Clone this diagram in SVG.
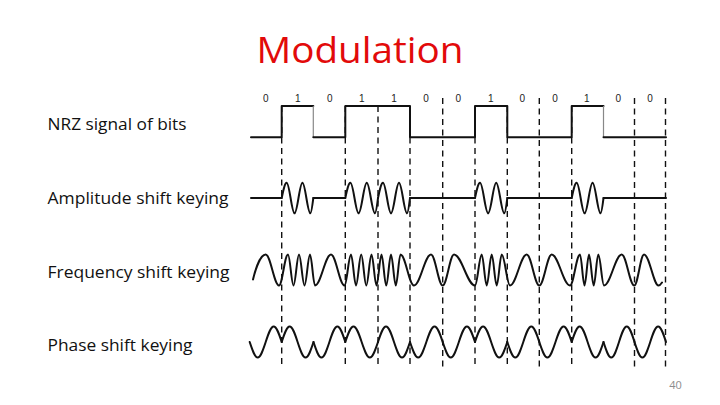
<svg xmlns="http://www.w3.org/2000/svg" xmlns:xlink="http://www.w3.org/1999/xlink" width="720" height="405" viewBox="0 0 720 405">
  <style>
    .sig { fill: none; stroke: #111; stroke-width: 2; stroke-linejoin: round; stroke-linecap: round; }
    .dash { stroke: #111; stroke-width: 1.4; stroke-dasharray: 6 4.5; fill: none; }
    .lbl { font-family: "Open Sans", "Liberation Sans", sans-serif; font-size: 17px; fill: #111; }
    .bit { font-family: "Liberation Sans", Arial, sans-serif; font-size: 10px; fill: #222; text-anchor: middle; }
  </style>
  <defs>
    <!-- ASK burst: two cycles over one bit (local width 32) -->
    <path id="ask1" class="sig" vector-effect="non-scaling-stroke" d="M0 0 C1.63 -7.84 3.19 -15.3 5 -15.3 C7.91 -15.3 10.09 15.3 13 15.3 C15.91 15.3 18.09 -15.3 21 -15.3 C23.91 -15.3 26.09 15.3 29 15.3 C30.09 15.3 31.02 7.84 32 0"/>
    <!-- PSK: one sine cycle over one bit (local width 32) -->
    <path id="psk" class="sig" vector-effect="non-scaling-stroke" d="M0 0 C2.61 -7.94 5.10 -15.5 8 -15.5 C10.90 -15.5 13.39 -7.94 16 0 C18.61 7.94 21.10 15.5 24 15.5 C26.90 15.5 29.39 7.94 32 0"/>
  </defs>

  <rect width="720" height="405" fill="#ffffff"/>

  <!-- Title -->
  <text x="256.5" y="62.5" font-family="'Open Sans', 'Liberation Sans', sans-serif" font-size="37" fill="#e20a0a" textLength="207" lengthAdjust="spacingAndGlyphs">Modulation</text>

  <!-- Row labels -->
  <text class="lbl" x="47.5" y="129.5" textLength="139" lengthAdjust="spacingAndGlyphs">NRZ signal of bits</text>
  <text class="lbl" x="47.5" y="203.5" textLength="181" lengthAdjust="spacingAndGlyphs">Amplitude shift keying</text>
  <text class="lbl" x="47.5" y="277.5" textLength="182" lengthAdjust="spacingAndGlyphs">Frequency shift keying</text>
  <text class="lbl" x="47.5" y="351" textLength="145" lengthAdjust="spacingAndGlyphs">Phase shift keying</text>

  <!-- Bit values -->
  <g id="bits">
    <text class="bit" x="265.7" y="101.5">0</text>
    <text class="bit" x="297.7" y="101.5">1</text>
    <text class="bit" x="329.7" y="101.5">0</text>
    <text class="bit" x="361.7" y="101.5">1</text>
    <text class="bit" x="394" y="101.5">1</text>
    <text class="bit" x="426" y="101.5">0</text>
    <text class="bit" x="458.3" y="101.5">0</text>
    <text class="bit" x="490.7" y="101.5">1</text>
    <text class="bit" x="522.3" y="101.5">0</text>
    <text class="bit" x="555" y="101.5">0</text>
    <text class="bit" x="586.7" y="101.5">1</text>
    <text class="bit" x="618.3" y="101.5">0</text>
    <text class="bit" x="650" y="101.5">0</text>
  </g>

  <!-- Dashed bit boundaries -->
  <g id="boundaries">
    <line class="dash" x1="281.7" y1="106" x2="281.7" y2="368"/>
    <line class="dash" x1="345.3" y1="106" x2="345.3" y2="368"/>
    <line class="dash" x1="378" y1="106" x2="378" y2="368"/>
    <line class="dash" x1="410" y1="106" x2="410" y2="368"/>
    <line class="dash" x1="442.7" y1="98" x2="442.7" y2="368"/>
    <line class="dash" x1="475" y1="106" x2="475" y2="368"/>
    <line class="dash" x1="507.3" y1="106" x2="507.3" y2="368"/>
    <line class="dash" x1="539.3" y1="98" x2="539.3" y2="368"/>
    <line class="dash" x1="571.7" y1="106" x2="571.7" y2="368"/>
    <line class="dash" x1="634.5" y1="98" x2="634.5" y2="368"/>
    <line class="dash" x1="665.5" y1="98" x2="665.5" y2="368"/>
  </g>

  <!-- NRZ -->
  <g id="nrz">
    <path class="sig" d="M251 137.3 H281.7 V106 H313.3"/>
    <path d="M313.3 106 V137.3" stroke="#888" stroke-width="1.2" fill="none"/>
    <path class="sig" d="M313.3 137.3 H345.3 V106 H410 V137.3 H475 V106 H507.3 V137.3 H571.7 V106 H603.5"/>
    <path d="M603.5 106 V137.3" stroke="#888" stroke-width="1.2" fill="none"/>
    <path class="sig" d="M603.5 137.3 H666"/>
  </g>

  <!-- ASK -->
  <g id="ask">
    <path class="sig" d="M251 198 H281.7 M313.3 198 H345.3 M410 198 H475 M507.3 198 H571.7 M603.5 198 H666"/>
    <use xlink:href="#ask1" href="#ask1" transform="translate(281.7 198) scale(0.9875 1)"/>
    <use xlink:href="#ask1" href="#ask1" transform="translate(345.3 198) scale(1.0219 1)"/>
    <use xlink:href="#ask1" href="#ask1" transform="translate(378 198) scale(1 1)"/>
    <use xlink:href="#ask1" href="#ask1" transform="translate(475 198) scale(1.0094 1)"/>
    <use xlink:href="#ask1" href="#ask1" transform="translate(571.7 198) scale(0.9938 1)"/>
  </g>

  <!-- FSK -->
  <g id="fsk">
    <path class="sig" d="M253 279.5
      C256 267 261 254.5 265.7 254.5
      C270.5 254.5 274.2 285.5 279 285.5
      C282.3 285.5 284.7 254.5 288 254.5
      C290 254.5 291.5 285.5 293.5 285.5
      C295.5 285.5 297 254.5 299 254.5
      C301 254.5 302.5 285.5 304.5 285.5
      C306.5 285.5 308 254.5 310 254.5
      C311.8 254.5 313.2 285.5 315 285.5
      C320.8 285.5 325.2 254.5 331 254.5
      C335.9 254.5 339.6 285.5 344.5 285.5
      C346.9 285.5 348.6 254.5 351 254.5
      C352.8 254.5 354.2 285.5 356 285.5
      C357.9 285.5 359.3 254.5 361.2 254.5
      C363.1 254.5 364.4 285.5 366.3 285.5
      C368.2 285.5 369.6 254.5 371.5 254.5
      C373.3 254.5 374.7 285.5 376.5 285.5
      C378.3 285.5 379.7 254.5 381.5 254.5
      C383.2 254.5 384.5 285.5 386.2 285.5
      C388 285.5 389.3 254.5 391 254.5
      C392.7 254.5 394.1 285.5 395.8 285.5
      C397.5 285.5 398.8 254.5 400.5 254.5
      C405.4 254.5 409.1 285.5 414 285.5
      C420.2 285.5 424.8 254.5 431 254.5
      C435.3 254.5 438.4 285.5 442.7 285.5
      C446.8 285.5 449.9 254.5 454 254.5
      C461.6 254.5 467.4 285.5 475 285.5
      C477.4 285.5 479.3 254.5 481.7 254.5
      C483.5 254.5 484.9 285.5 486.7 285.5
      C488.5 285.5 489.9 254.5 491.7 254.5
      C493.5 254.5 494.9 285.5 496.7 285.5
      C498.5 285.5 499.9 254.5 501.7 254.5
      C504.7 254.5 507 285.5 510 285.5
      C516.1 285.5 520.6 254.5 526.7 254.5
      C531.3 254.5 534.7 285.5 539.3 285.5
      C543.8 285.5 547.2 254.5 551.7 254.5
      C558.4 254.5 563.3 285.5 570 285.5
      C573.6 285.5 576.4 254.5 580 254.5
      C581.6 254.5 582.9 285.5 584.5 285.5
      C586.1 285.5 587.4 254.5 589 254.5
      C590.7 254.5 592 285.5 593.7 285.5
      C595.4 285.5 596.6 254.5 598.3 254.5
      C600.4 254.5 601.9 285.5 604 285.5
      C610.4 285.5 615.3 254.5 621.7 254.5
      C626.3 254.5 629.7 285.5 634.3 285.5
      C637.8 285.5 640.5 254.5 644 254.5
      C649.5 254.5 653.5 285.5 658.5 285.5
      C660 285.5 661 284 662 282.5"/>
  </g>

  <!-- PSK -->
  <g id="psk-row">
    <use xlink:href="#psk" href="#psk" transform="translate(249.7 342) scale(1 -1)"/>
    <use xlink:href="#psk" href="#psk" transform="translate(281.7 342) scale(0.994 1)"/>
    <use xlink:href="#psk" href="#psk" transform="translate(313.5 342) scale(0.994 -1)"/>
    <use xlink:href="#psk" href="#psk" transform="translate(345.3 342) scale(1.022 1)"/>
    <use xlink:href="#psk" href="#psk" transform="translate(378 342) scale(1 1)"/>
    <use xlink:href="#psk" href="#psk" transform="translate(410 342) scale(1.022 -1)"/>
    <use xlink:href="#psk" href="#psk" transform="translate(442.7 342) scale(1.009 -1)"/>
    <use xlink:href="#psk" href="#psk" transform="translate(475 342) scale(1.009 1)"/>
    <use xlink:href="#psk" href="#psk" transform="translate(507.3 342) scale(1 -1)"/>
    <use xlink:href="#psk" href="#psk" transform="translate(539.3 342) scale(1.0125 -1)"/>
    <use xlink:href="#psk" href="#psk" transform="translate(571.7 342) scale(0.994 1)"/>
    <use xlink:href="#psk" href="#psk" transform="translate(603.5 342) scale(0.969 -1)"/>
    <use xlink:href="#psk" href="#psk" transform="translate(634.5 342) scale(0.984 -1)"/>
  </g>

  <!-- Page number -->
  <text x="675.5" y="389" font-family="'Open Sans', 'Liberation Sans', sans-serif" font-size="11" fill="#8c8c8c" text-anchor="middle">40</text>
</svg>
